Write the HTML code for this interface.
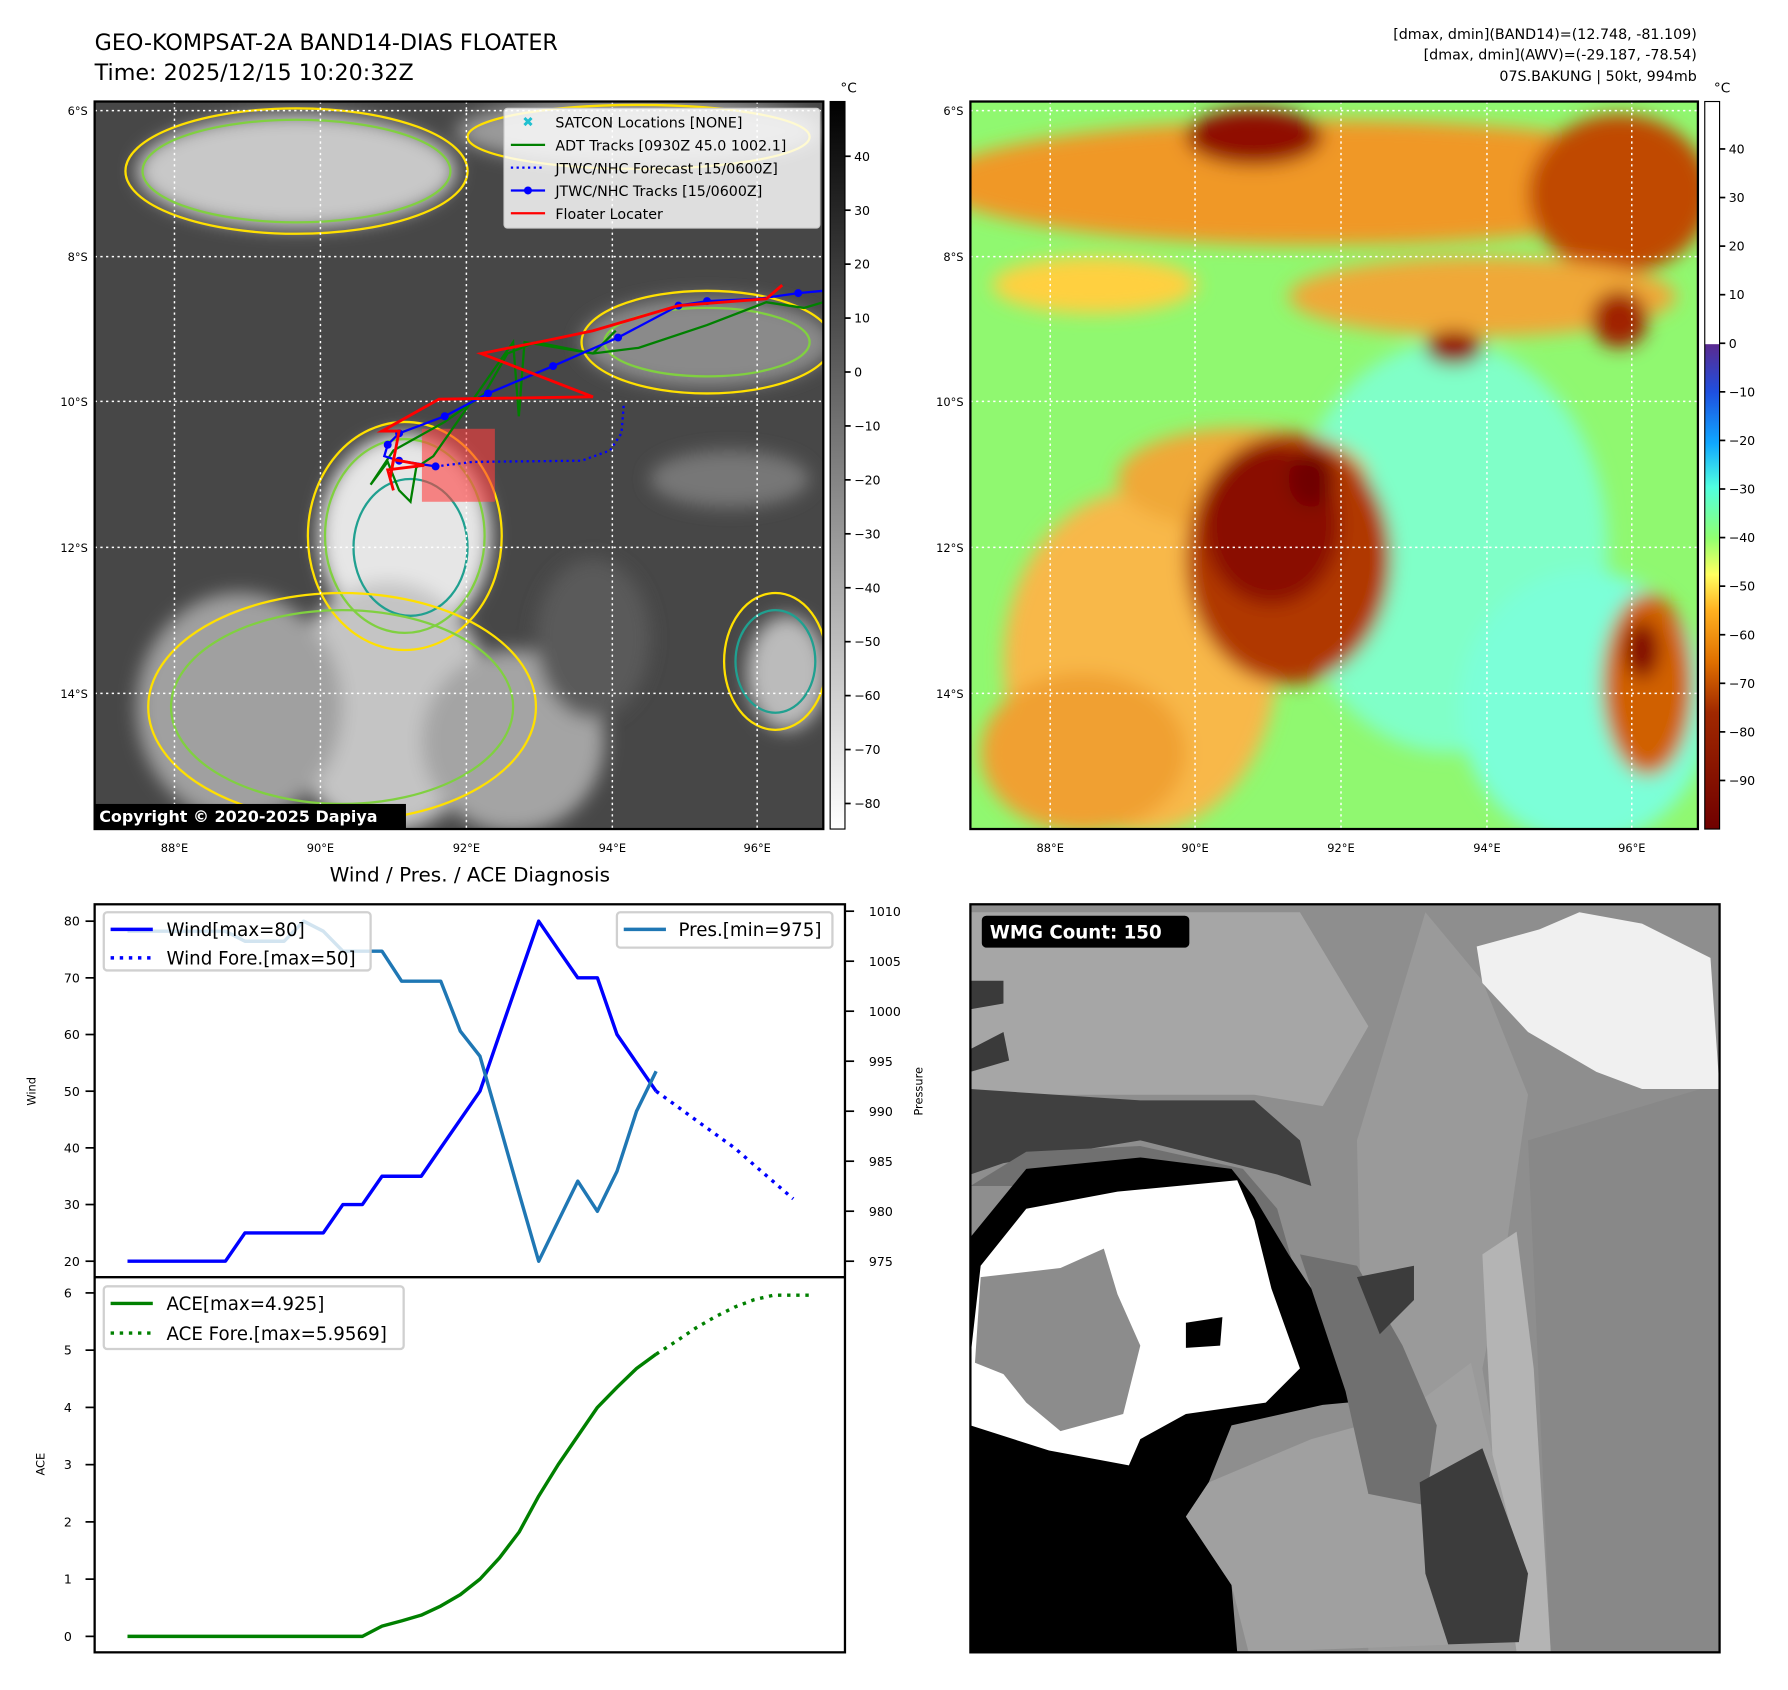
<!DOCTYPE html>
<html><head><meta charset="utf-8"><style>
html,body{margin:0;padding:0;background:#fff;}
svg{display:block;font-family:"DejaVu Sans","Liberation Sans",sans-serif;}
</style></head><body>
<svg id="root" width="1788" height="1690" viewBox="0 0 1568 1482" xmlns="http://www.w3.org/2000/svg">
<defs>
<linearGradient id="gcb" x1="0" y1="0" x2="0" y2="1"><stop offset="0" stop-color="#000"/><stop offset="1" stop-color="#fff"/></linearGradient>
<linearGradient id="ccb" x1="0" y1="0" x2="0" y2="1">
<stop offset="0" stop-color="#fff"/><stop offset="0.333" stop-color="#fff"/><stop offset="0.334" stop-color="#5a2a90"/>
<stop offset="0.40" stop-color="#1e50e0"/><stop offset="0.47" stop-color="#10a8ff"/><stop offset="0.53" stop-color="#50ffe0"/>
<stop offset="0.60" stop-color="#90ff70"/><stop offset="0.65" stop-color="#ffff60"/><stop offset="0.70" stop-color="#ffb020"/>
<stop offset="0.77" stop-color="#e07000"/><stop offset="0.84" stop-color="#a02800"/><stop offset="1" stop-color="#700000"/></linearGradient>
<filter id="blur8"><feGaussianBlur stdDeviation="8"/></filter>
<clipPath id="clipL"><rect x="83" y="89" width="639" height="638"/></clipPath>
<clipPath id="clipR"><rect x="851" y="89" width="638" height="638"/></clipPath>
<clipPath id="clipW"><rect x="851" y="793" width="657" height="656"/></clipPath>
</defs>

<text x="83" y="44" font-size="19.5">GEO-KOMPSAT-2A BAND14-DIAS FLOATER</text>
<text x="83" y="70" font-size="19.5">Time: 2025/12/15 10:20:32Z</text>
<g font-size="12.5" text-anchor="end">
<text x="1488" y="34">[dmax, dmin](BAND14)=(12.748, -81.109)</text>
<text x="1488" y="52">[dmax, dmin](AWV)=(-29.187, -78.54)</text>
<text x="1488" y="71">07S.BAKUNG | 50kt, 994mb</text>
</g>

<!-- LEFT MAP -->
<g>
<g clip-path="url(#clipL)">
<rect x="83" y="89" width="639" height="638" fill="#474747"/>
<g filter="url(#blur8)">
<ellipse cx="260" cy="150" rx="140" ry="50" fill="#c8c8c8"/>
<ellipse cx="560" cy="115" rx="160" ry="30" fill="#9a9a9a"/>
<ellipse cx="620" cy="300" rx="110" ry="40" fill="#8a8a8a"/>
<ellipse cx="355" cy="470" rx="75" ry="90" fill="#e6e6e6"/>
<ellipse cx="340" cy="620" rx="90" ry="110" fill="#c4c4c4"/>
<ellipse cx="210" cy="620" rx="90" ry="100" fill="#a0a0a0"/>
<ellipse cx="450" cy="650" rx="80" ry="80" fill="#a4a4a4"/>
<ellipse cx="690" cy="590" rx="35" ry="50" fill="#bbb"/>
<ellipse cx="640" cy="420" rx="70" ry="25" fill="#777"/>
<ellipse cx="520" cy="560" rx="50" ry="70" fill="#5a5a5a"/>
</g>
<g fill="none" stroke-width="2">
<ellipse cx="260" cy="150" rx="150" ry="55" stroke="#ffe000"/>
<ellipse cx="260" cy="150" rx="135" ry="45" stroke="#80d040"/>
<ellipse cx="355" cy="470" rx="85" ry="100" stroke="#ffe000"/>
<ellipse cx="355" cy="470" rx="70" ry="85" stroke="#80d040"/>
<ellipse cx="360" cy="480" rx="50" ry="60" stroke="#20a090"/>
<ellipse cx="300" cy="620" rx="170" ry="100" stroke="#ffe000"/>
<ellipse cx="300" cy="620" rx="150" ry="85" stroke="#80d040"/>
<ellipse cx="620" cy="300" rx="110" ry="45" stroke="#ffe000"/>
<ellipse cx="620" cy="300" rx="90" ry="30" stroke="#80d040"/>
<ellipse cx="680" cy="580" rx="35" ry="45" stroke="#20a090"/>
<ellipse cx="680" cy="580" rx="45" ry="60" stroke="#ffe000"/>
<ellipse cx="560" cy="120" rx="150" ry="28" stroke="#ffe000"/>
</g>
<g stroke="#fff" stroke-width="1.3" stroke-dasharray="2,3">
<line x1="153" y1="89" x2="153" y2="727"/><line x1="281" y1="89" x2="281" y2="727"/><line x1="409" y1="89" x2="409" y2="727"/><line x1="537" y1="89" x2="537" y2="727"/><line x1="664" y1="89" x2="664" y2="727"/>
<line x1="83" y1="97" x2="722" y2="97"/><line x1="83" y1="225" x2="722" y2="225"/><line x1="83" y1="352" x2="722" y2="352"/><line x1="83" y1="480" x2="722" y2="480"/><line x1="83" y1="608" x2="722" y2="608"/>
</g>
<rect x="370" y="376" width="64" height="64" fill="#ff4040" opacity="0.6"/>
<polyline fill="none" stroke="#008000" stroke-width="2" points="722,265 705,270 672,265 620,285 560,305 520,310 470,300 445,310 425,345 390,370 345,395 325,425 340,405 350,430 360,440 365,410 380,400 450,300 455,365 460,300 520,310 540,290"/>
<polyline fill="none" stroke="#0000ff" stroke-width="2" stroke-dasharray="2,3" points="382,409 415,405 510,404 535,395 545,380 547,355"/>
<polyline fill="none" stroke="#0000ff" stroke-width="2" points="722,255 700,257 665,262 620,264 595,268 542,296 485,321 428,345 390,365 350,380 340,390 337,400 350,404 382,409"/>
<g fill="#0000ff">
<circle cx="700" cy="257" r="3.5"/><circle cx="620" cy="264" r="3.5"/><circle cx="595" cy="268" r="3.5"/><circle cx="542" cy="296" r="3.5"/><circle cx="485" cy="321" r="3.5"/><circle cx="428" cy="345" r="3.5"/><circle cx="390" cy="365" r="3.5"/><circle cx="350" cy="380" r="3.5"/><circle cx="340" cy="390" r="3.5"/><circle cx="350" cy="404" r="3.5"/><circle cx="382" cy="409" r="3.5"/>
</g>
<polyline fill="none" stroke="#ff0000" stroke-width="2.5" points="686,250 672,262 595,268 520,290 482,298 422,310 520,348 385,350 335,378 350,378 342,420 345,403 372,408 340,412 345,430"/>
</g>
<rect x="83" y="89" width="639" height="638" fill="none" stroke="#000" stroke-width="2"/>
<g>
<rect x="442" y="95" width="277" height="105" fill="#fff" fill-opacity="0.82" stroke="#ccc" rx="3"/>
<g font-size="12.5">
<text x="463" y="111" fill="#20c0d0" font-size="12" text-anchor="middle">✖</text><text x="487" y="112">SATCON Locations [NONE]</text>
<line x1="448" y1="127" x2="478" y2="127" stroke="#008000" stroke-width="2"/><text x="487" y="132">ADT Tracks [0930Z 45.0 1002.1]</text>
<line x1="448" y1="147" x2="478" y2="147" stroke="#0000ff" stroke-width="2" stroke-dasharray="2,3"/><text x="487" y="152">JTWC/NHC Forecast [15/0600Z]</text>
<line x1="448" y1="167" x2="478" y2="167" stroke="#0000ff" stroke-width="2"/><circle cx="463" cy="167" r="3.5" fill="#0000ff"/><text x="487" y="172">JTWC/NHC Tracks [15/0600Z]</text>
<line x1="448" y1="187" x2="478" y2="187" stroke="#ff0000" stroke-width="2"/><text x="487" y="192">Floater Locater</text>
</g></g>
<rect x="83" y="705" width="273" height="22" fill="#000"/>
<text x="87" y="721" font-size="14" font-weight="bold" fill="#fff">Copyright © 2020-2025 Dapiya</text>
<g font-size="10" text-anchor="end">
<text x="77" y="101">6°S</text><text x="77" y="229">8°S</text><text x="77" y="356">10°S</text><text x="77" y="484">12°S</text><text x="77" y="612">14°S</text></g>
<g font-size="10" text-anchor="middle">
<text x="153" y="747">88°E</text><text x="281" y="747">90°E</text><text x="409" y="747">92°E</text><text x="537" y="747">94°E</text><text x="664" y="747">96°E</text></g>
<rect x="728" y="89" width="13" height="638" fill="url(#gcb)" stroke="#000" stroke-width="1"/>
<text x="737" y="81" font-size="12">°C</text>
<g id="lcbt" font-size="13"></g>
</g>

<!-- RIGHT MAP -->
<g>
<g clip-path="url(#clipR)">
<rect x="851" y="89" width="638" height="638" fill="#90f870"/>
<g filter="url(#blur8)">
<ellipse cx="1270" cy="480" rx="140" ry="180" fill="#80ffc8"/>
<ellipse cx="1390" cy="620" rx="110" ry="120" fill="#7cffd8"/>
<ellipse cx="1160" cy="160" rx="340" ry="55" fill="#f09828"/>
<ellipse cx="1420" cy="170" rx="80" ry="70" fill="#c04800"/>
<ellipse cx="1100" cy="120" rx="60" ry="25" fill="#901000"/>
<ellipse cx="1300" cy="260" rx="170" ry="35" fill="#f0a838"/>
<ellipse cx="960" cy="250" rx="90" ry="25" fill="#ffd040"/>
<ellipse cx="1000" cy="580" rx="120" ry="150" fill="#f8b848"/>
<ellipse cx="950" cy="660" rx="90" ry="70" fill="#f0a030"/>
<ellipse cx="1090" cy="420" rx="110" ry="45" fill="#f0a838"/>
<ellipse cx="1130" cy="490" rx="90" ry="110" fill="#b03800"/>
<ellipse cx="1115" cy="460" rx="60" ry="70" fill="#8a1000"/>
<ellipse cx="1150" cy="420" rx="20" ry="25" fill="#700000"/>
<ellipse cx="1445" cy="600" rx="40" ry="80" fill="#d06000"/>
<ellipse cx="1440" cy="570" rx="15" ry="25" fill="#800000"/>
<ellipse cx="1275" cy="305" rx="25" ry="15" fill="#900000"/>
<ellipse cx="1420" cy="280" rx="25" ry="25" fill="#a02000"/>
</g>
<g stroke="#fff" stroke-width="1.3" stroke-dasharray="2,3">
<line x1="921" y1="89" x2="921" y2="727"/><line x1="1048" y1="89" x2="1048" y2="727"/><line x1="1176" y1="89" x2="1176" y2="727"/><line x1="1304" y1="89" x2="1304" y2="727"/><line x1="1431" y1="89" x2="1431" y2="727"/>
<line x1="851" y1="97" x2="1489" y2="97"/><line x1="851" y1="225" x2="1489" y2="225"/><line x1="851" y1="352" x2="1489" y2="352"/><line x1="851" y1="480" x2="1489" y2="480"/><line x1="851" y1="608" x2="1489" y2="608"/>
</g></g>
<rect x="851" y="89" width="638" height="638" fill="none" stroke="#000" stroke-width="2"/>
<g font-size="10" text-anchor="end">
<text x="845" y="101">6°S</text><text x="845" y="229">8°S</text><text x="845" y="356">10°S</text><text x="845" y="484">12°S</text><text x="845" y="612">14°S</text></g>
<g font-size="10" text-anchor="middle">
<text x="921" y="747">88°E</text><text x="1048" y="747">90°E</text><text x="1176" y="747">92°E</text><text x="1304" y="747">94°E</text><text x="1431" y="747">96°E</text></g>
<rect x="1495" y="89" width="13" height="638" fill="url(#ccb)" stroke="#000" stroke-width="1"/>
<text x="1503" y="81" font-size="12">°C</text>
<g id="rcbt" font-size="13"></g>
</g>

<!-- WMG panel -->
<g>
<g clip-path="url(#clipW)">
<rect x="851" y="793" width="657" height="656" fill="#8e8e8e"/>
<polygon fill="#a6a6a6" points="851,800 1140,800 1200,900 1160,970 1100,960 851,960"/>
<polygon fill="#9a9a9a" points="1250,800 1300,860 1340,960 1320,1100 1300,1200 1340,1449 1200,1449 1190,1000"/>
<polygon fill="#b4b4b4" points="1300,1100 1330,1080 1345,1200 1360,1449 1330,1449 1310,1300"/>
<polygon fill="#888" points="1340,1000 1508,950 1508,1449 1360,1449"/>
<polygon fill="#f0f0f0" points="1295,830 1350,815 1385,800 1440,810 1500,840 1508,955 1440,955 1400,940 1340,905 1300,862"/>
<polygon fill="#404040" points="851,955 1000,965 1100,965 1140,1000 1150,1040 1120,1030 1000,1000 880,1020 851,1030"/>
<polygon fill="#707070" points="851,1040 900,1010 1000,1005 1090,1025 1120,1060 1140,1130 1060,1060 980,1030 900,1040"/>
<polygon fill="#3a3a3a" points="851,860 880,860 880,880 851,885"/><polygon fill="#3a3a3a" points="851,920 880,905 885,930 851,940"/>
<polygon fill="#000" points="851,1085 900,1025 1000,1015 1080,1025 1100,1050 1130,1100 1170,1160 1235,1200 1235,1225 1160,1232 1080,1250 1060,1300 1040,1330 1080,1390 1085,1449 851,1449"/>
<polygon fill="#fff" points="860,1110 900,1060 980,1045 1085,1035 1100,1070 1115,1130 1140,1200 1110,1230 1040,1240 1000,1262 990,1285 920,1272 851,1250 851,1190"/>
<polygon fill="#8c8c8c" points="860,1120 930,1112 968,1095 980,1135 1000,1180 985,1240 930,1255 900,1230 880,1205 855,1195"/>
<polygon fill="#000" points="1040,1160 1072,1155 1070,1180 1040,1182"/>
<polygon fill="#a0a0a0" points="1060,1300 1150,1262 1230,1240 1290,1195 1300,1240 1335,1380 1330,1440 1095,1449 1080,1390 1040,1330"/>
<polygon fill="#707070" points="1140,1100 1190,1110 1230,1180 1260,1250 1250,1320 1200,1310 1180,1220"/>
<polygon fill="#3c3c3c" points="1245,1300 1300,1270 1340,1380 1332,1440 1270,1442 1250,1380"/>
<polygon fill="#3c3c3c" points="1190,1120 1240,1110 1240,1140 1210,1170"/>
</g>
<rect x="851" y="793" width="657" height="656" fill="none" stroke="#000" stroke-width="2"/>
<rect x="861" y="803" width="182" height="28" rx="4" fill="#000"/>
<text x="868" y="823" font-size="16" font-weight="bold" fill="#fff">WMG Count: 150</text>
</g>

<!-- DIAGNOSIS CHART -->
<g>
<text x="412" y="773" font-size="17.5" text-anchor="middle">Wind / Pres. / ACE Diagnosis</text>
<rect x="83" y="793" width="658" height="656" fill="none" stroke="#000" stroke-width="2"/>
<line x1="83" y1="1120" x2="741" y2="1120" stroke="#000" stroke-width="2"/>
<text transform="translate(31,957) rotate(-90)" font-size="10" text-anchor="middle">Wind</text>
<text transform="translate(809,957) rotate(-90)" font-size="10" text-anchor="middle">Pressure</text>
<text transform="translate(39,1284) rotate(-90)" font-size="10" text-anchor="middle">ACE</text>
<g id="ticks"></g>
<g id="series"></g>
<g>
<rect x="91" y="800" width="234" height="51" fill="#fff" fill-opacity="0.8" stroke="#d0d0d0" stroke-width="2" rx="3"/>
<line x1="97" y1="815" x2="134" y2="815" stroke="#0000ff" stroke-width="3"/><text x="146" y="821" font-size="16">Wind[max=80]</text>
<line x1="97" y1="840" x2="134" y2="840" stroke="#0000ff" stroke-width="3" stroke-dasharray="3,5"/><text x="146" y="846" font-size="16">Wind Fore.[max=50]</text>
</g>
<g>
<rect x="541" y="800" width="189" height="31" fill="#fff" fill-opacity="0.8" stroke="#d0d0d0" stroke-width="2" rx="3"/>
<line x1="547" y1="815" x2="584" y2="815" stroke="#1f77b4" stroke-width="3"/><text x="595" y="821" font-size="16">Pres.[min=975]</text>
</g>
<g>
<rect x="91" y="1128" width="263" height="55" fill="#fff" fill-opacity="0.8" stroke="#d0d0d0" stroke-width="2" rx="3"/>
<line x1="97" y1="1143" x2="134" y2="1143" stroke="#008000" stroke-width="3"/><text x="146" y="1149" font-size="16">ACE[max=4.925]</text>
<line x1="97" y1="1169" x2="134" y2="1169" stroke="#008000" stroke-width="3" stroke-dasharray="3,5"/><text x="146" y="1175" font-size="16">ACE Fore.[max=5.9569]</text>
</g>
</g>
</svg>
<script>
const windObs = [20,20,20,20,20,20,25,25,25,25,25,30,30,35,35,35,40,45,50,60,70,80,75,70,70,60,55,50];
const windFore = [50,47.5,45,42.5,40,37,34,31];
const presObs = [1008,1008,1008,1008,1008,1008,1007,1007,1007,1009,1008,1006,1006,1006,1003,1003,1003,998,995.5,988.7,981.8,975,979,983,980,984,990,994];
const aceObs = [0,0,0,0,0,0,0,0,0,0,0,0,0,0.18,0.27,0.37,0.53,0.73,1.0,1.37,1.82,2.45,3.0,3.5,4.0,4.35,4.68,4.93];
const aceFore = [4.93,5.15,5.38,5.58,5.75,5.88,5.96,5.96,5.96];
const windTicks = [20,30,40,50,60,70,80];
const presTicks = [975,980,985,990,995,1000,1005,1010];
const aceTicks = [0,1,2,3,4,5,6];
const irCbTicks = [40,30,20,10,0,-10,-20,-30,-40,-50,-60,-70,-80];
const awvCbTicks = [40,30,20,10,0,-10,-20,-30,-40,-50,-60,-70,-80,-90];
const NS='http://www.w3.org/2000/svg';
const xk = k => 111.8 + 17.17*k;
const yW = v => 1106 - (v-20)*4.97;
const yP = v => 1106 - (v-975)*8.77;
const yA = v => 1435 - v*50.2;
const yIR = v => 137 - (v-40)*4.73;
const yAWV = v => 301 - v*4.26;
function el(tag, attrs, parent){const e=document.createElementNS(NS,tag);for(const k in attrs)e.setAttribute(k,attrs[k]);parent.appendChild(e);return e;}
const series=document.getElementById('series');
const ticks=document.getElementById('ticks');
function line(vals, off, yf, color, dash, name){
  const pts = vals.map((v,i)=>xk(i+off).toFixed(1)+','+yf(v).toFixed(1)).join(' ');
  const p = el('polyline',{points:pts,fill:'none',stroke:color,'stroke-width':3,'stroke-linejoin':'round'},series);
  if(dash) p.setAttribute('stroke-dasharray',dash);
  
  
}
line(aceObs,0,yA,'#008000',null,'ace-line');
line(aceFore,27,yA,'#008000','3,5','ace-forecast-line');
line(windObs,0,yW,'#0000ff',null,'wind-line');
line(windFore,27,yW,'#0000ff','3,5','wind-forecast-line');
line(presObs,0,yP,'#1f77b4',null,'pressure-line');
function tick(x1,x2,y,label,anchor,tx,name,parent){
  el('line',{x1:x1,x2:x2,y1:y,y2:y,stroke:'#000','stroke-width':1.5},parent);
  const t=el('text',{x:tx,y:y+4,'font-size':11,'text-anchor':anchor},parent);
  t.textContent=label;
  
  
}
windTicks.forEach(v=>tick(75,83,yW(v),v,'end',70,'wind-tick-label',ticks));
presTicks.forEach(v=>tick(741,749,yP(v),v,'start',762,'pressure-tick-label',ticks));
aceTicks.forEach(v=>tick(75,83,yA(v),v,'end',63,'ace-tick-label',ticks));
const lcb=document.getElementById('lcbt');
irCbTicks.forEach(v=>tick(741,746,yIR(v),String(v).replace('-','\u2212'),'start',749,'ir-colorbar-tick',lcb));
const rcb=document.getElementById('rcbt');
awvCbTicks.forEach(v=>tick(1508,1513,yAWV(v),String(v).replace('-','\u2212'),'start',1516,'awv-colorbar-tick',rcb));
</script>
</body></html>
